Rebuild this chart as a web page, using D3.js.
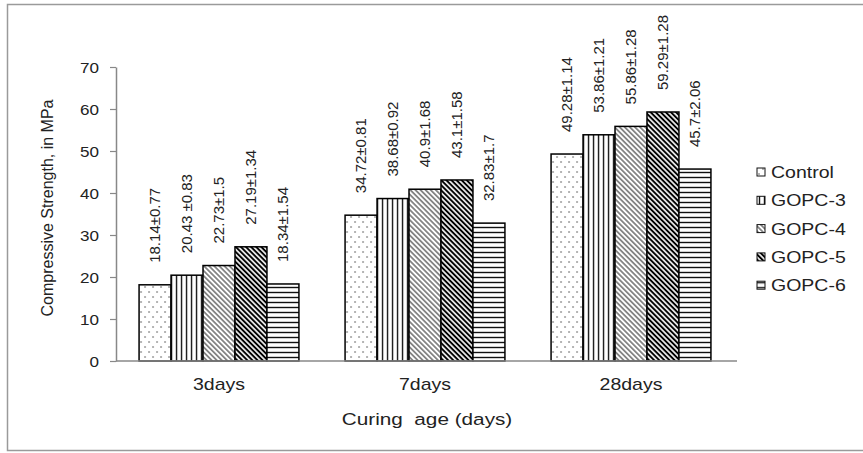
<!DOCTYPE html>
<html>
<head>
<meta charset="utf-8">
<script src="https://cdn.jsdelivr.net/npm/d3@7"></script>
<style>
  body { margin: 0; background: #fff; }
  text { font-family: "Liberation Sans", Arial, sans-serif; fill: #222; }
</style>
</head>
<body>
<svg id="chart" width="863" height="453"></svg>
<script>
// data
var categories = ["3days", "7days", "28days"];
var series = ["Control", "GOPC-3", "GOPC-4", "GOPC-5", "GOPC-6"];
var means = [
  [18.14, 20.43, 22.73, 27.19, 18.34],
  [34.72, 38.68, 40.9, 43.1, 32.83],
  [49.28, 53.86, 55.86, 59.29, 45.7]
];
var labels = [
  ["18.14±0.77", "20.43 ±0.83", "22.73±1.5", "27.19±1.34", "18.34±1.54"],
  ["34.72±0.81", "38.68±0.92", "40.9±1.68", "43.1±1.58", "32.83±1.7"],
  ["49.28±1.14", "53.86±1.21", "55.86±1.28", "59.29±1.28", "45.7±2.06"]
];
var yTicks = [0, 10, 20, 30, 40, 50, 60, 70];

var sx = 1.22; // the source picture is stretched sideways

var svg = d3.select("#chart");

// outer frame
svg.append("rect")
  .attr("x", 7.5).attr("y", 4.5)
  .attr("width", 870).attr("height", 446)
  .attr("fill", "none")
  .attr("stroke", "#9a9a9a")
  .attr("stroke-width", 1.5);

var defs = svg.append("defs");

function linePattern(id, gap, width, angle, color) {
  var p = defs.append("pattern")
    .attr("id", id)
    .attr("patternUnits", "userSpaceOnUse")
    .attr("width", gap).attr("height", gap);
  if (angle) p.attr("patternTransform", "rotate(" + angle + ")");
  p.append("rect").attr("width", gap).attr("height", gap).attr("fill", "#fff");
  p.append("line")
    .attr("x1", gap / 2).attr("y1", 0)
    .attr("x2", gap / 2).attr("y2", gap)
    .attr("stroke", color).attr("stroke-width", width);
}

var dots = defs.append("pattern")
  .attr("id", "pat0")
  .attr("patternUnits", "userSpaceOnUse")
  .attr("width", 8).attr("height", 10);
dots.append("rect").attr("width", 8).attr("height", 10).attr("fill", "#fff");
dots.append("circle").attr("cx", 2).attr("cy", 2).attr("r", 0.75).attr("fill", "#444");
dots.append("circle").attr("cx", 6).attr("cy", 7).attr("r", 0.75).attr("fill", "#444");

linePattern("pat1", 5, 1.4, 0, "#111");
linePattern("pat2", 3.6, 1, -45, "#222");
linePattern("pat3", 3.6, 2, -45, "#000");
linePattern("pat4", 5, 1.4, 90, "#111");

var x0 = d3.scaleBand()
  .domain(categories)
  .range([116, 734])
  .paddingInner(0.224)
  .paddingOuter(0.112);

var x1 = d3.scaleBand()
  .domain(series)
  .range([0, x0.bandwidth()]);

var y = d3.scaleLinear()
  .domain([0, 70])
  .range([361, 67]);

// y axis
var yAxis = svg.append("g")
  .attr("transform", "translate(116,0)")
  .call(d3.axisLeft(y).tickValues(yTicks).tickSize(6).tickSizeOuter(0).tickPadding(0));
yAxis.select(".domain").attr("stroke", "#888").attr("stroke-width", 1.5);
yAxis.selectAll(".tick line").attr("stroke", "#888").attr("stroke-width", 1.2);
yAxis.selectAll(".tick text").remove();
yAxis.selectAll(".tick").append("text")
  .attr("transform", "translate(-17,5) scale(" + sx + ",1)")
  .attr("text-anchor", "end")
  .style("font-size", "14px")
  .style("font-family", "'Liberation Sans', Arial, sans-serif")
  .attr("fill", "#222")
  .text(function(d) { return d; });

// bars
var groups = svg.selectAll(".grp")
  .data(categories)
  .enter().append("g")
  .attr("class", "grp")
  .attr("transform", function(d) { return "translate(" + x0(d) + ",0)"; });

groups.selectAll("rect")
  .data(function(d, i) { return means[i].map(function(v, j) { return {s: j, v: v, lab: labels[i][j]}; }); })
  .enter().append("rect")
  .attr("x", function(d) { return x1(series[d.s]); })
  .attr("y", function(d) { return y(d.v); })
  .attr("width", x1.bandwidth())
  .attr("height", function(d) { return y(0) - y(d.v); })
  .attr("fill", function(d) { return "url(#pat" + d.s + ")"; })
  .attr("stroke", "#000")
  .attr("stroke-width", 1.5);

groups.selectAll(".lab")
  .data(function(d, i) { return means[i].map(function(v, j) { return {s: j, v: v, lab: labels[i][j]}; }); })
  .enter().append("text")
  .attr("class", "lab")
  .attr("transform", function(d) {
    var cx = x1(series[d.s]) + x1.bandwidth() / 2;
    return "translate(" + cx + "," + (y(d.v) - 22) + ") rotate(-90)";
  })
  .attr("dy", "0.35em")
  .style("font-size", "15px")
  .text(function(d) { return d.lab; });

// x axis line
svg.append("line")
  .attr("x1", 116).attr("x2", 737)
  .attr("y1", 361).attr("y2", 361)
  .attr("stroke", "#888")
  .attr("stroke-width", 1.5);

// category labels
svg.selectAll(".cat")
  .data(categories)
  .enter().append("text")
  .attr("class", "cat")
  .attr("transform", function(d) { return "translate(" + (x0(d) + x0.bandwidth() / 2) + ",390) scale(" + sx + ",1)"; })
  .attr("text-anchor", "middle")
  .style("font-size", "16px")
  .text(function(d) { return d; });

// axis titles
svg.append("text")
  .attr("transform", "translate(427,425) scale(" + sx + ",1)")
  .attr("text-anchor", "middle")
  .style("font-size", "17px")
  .style("white-space", "pre")
  .attr("xml:space", "preserve")
  .text("Curing  age (days)");

svg.append("text")
  .attr("transform", "translate(53,208) rotate(-90)")
  .attr("text-anchor", "middle")
  .style("font-size", "16px")
  .text("Compressive Strength, in MPa");

// legend
var legend = svg.selectAll(".leg")
  .data(series)
  .enter().append("g")
  .attr("class", "leg")
  .attr("transform", function(d, i) { return "translate(757," + (172 + i * 28.3) + ")"; });

legend.append("rect")
  .attr("x", 0).attr("y", -4)
  .attr("width", 8).attr("height", 8)
  .attr("fill", function(d, i) { return "url(#pat" + i + ")"; })
  .attr("stroke", "#111")
  .attr("stroke-width", 1);

legend.append("text")
  .attr("transform", "translate(14,6) scale(" + sx + ",1)")
  .style("font-size", "16px")
  .text(function(d) { return d; });
</script>
</body>
</html>
